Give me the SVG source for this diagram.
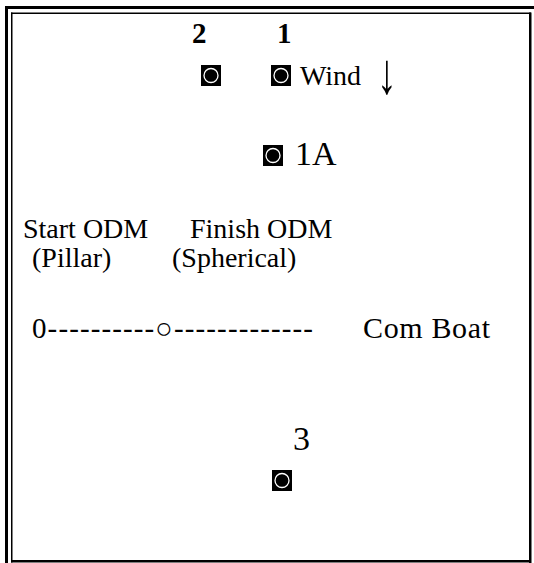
<svg xmlns="http://www.w3.org/2000/svg" width="534" height="563" viewBox="0 0 534 563">
<style>
.t{font-family:"Liberation Serif","Times New Roman",serif;fill:#000}
.b{font-weight:bold}
.sq{fill:#000}
.ci{fill:none;stroke:#fff;stroke-width:1.3}
</style>
<defs>
<g id="marker">
<rect class="sq" x="0" y="0" width="20" height="21"/>
<circle class="ci" cx="10" cy="10.5" r="7"/>
</g>
</defs>
<rect width="534" height="563" fill="#fff"/>
<g id="border" fill="#000">
<rect x="5" y="6" width="3" height="557"/>
<rect x="5" y="6" width="529" height="3"/>
<rect x="11" y="12.5" width="1.5" height="550"/>
<rect x="11" y="12.5" width="520" height="1.5"/>
<rect x="529" y="12.5" width="2.5" height="550.5"/>
<rect x="11" y="560" width="520" height="2.5"/>
</g>
<g id="node-2">
<text class="t b" x="192" y="43" font-size="29">2</text>
<use href="#marker" x="201" y="65"/>
</g>
<g id="node-1">
<text class="t b" x="277" y="43" font-size="29">1</text>
<use href="#marker" x="271" y="65"/>
<text class="t" x="300" y="85" font-size="28">Wind</text>
<text class="t" font-size="40" transform="translate(377,93) scale(1,1.45)">↓</text>
</g>
<g id="node-1A">
<use href="#marker" x="263" y="145"/>
<text class="t" x="295" y="165" font-size="34">1A</text>
</g>
<g id="odm">
<text class="t" x="23" y="238" font-size="28">Start ODM</text>
<text class="t" x="190" y="238" font-size="28">Finish ODM</text>
<text class="t" x="32" y="267" font-size="28">(Pillar)</text>
<text class="t" x="172" y="267" font-size="28">(Spherical)</text>
<text class="t" x="32" y="338" font-size="29" textLength="281" lengthAdjust="spacing">0----------○-------------</text>
<text class="t" x="363" y="338" font-size="30" textLength="127" lengthAdjust="spacing">Com Boat</text>
</g>
<g id="node-3">
<text class="t" x="293" y="450" font-size="34">3</text>
<use href="#marker" x="272" y="470"/>
</g>
<g id="connectors"/>
</svg>
